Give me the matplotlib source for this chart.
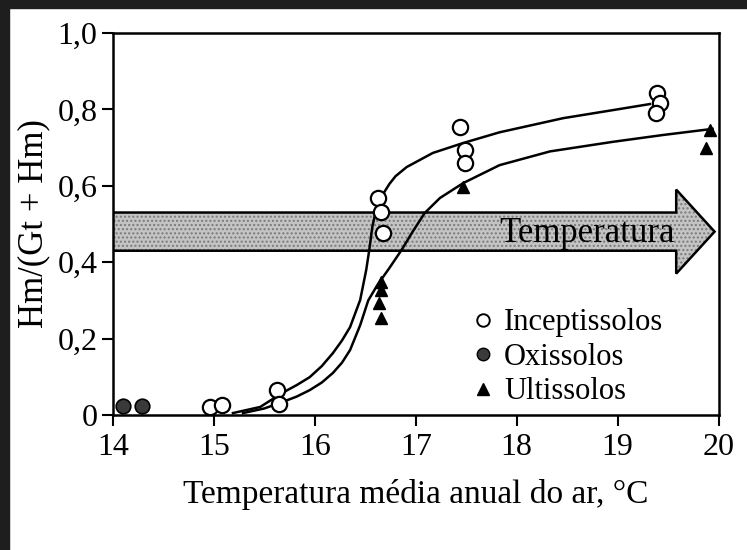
import matplotlib
matplotlib.use("Agg")
import matplotlib.pyplot as plt
from matplotlib.patches import FancyArrow, Rectangle
from matplotlib.lines import Line2D

plt.rcParams['font.family'] = ['Liberation Serif', 'DejaVu Serif']

# Inceptissolos (open circles)
incep_x = [14.96, 15.08, 15.63, 15.65, 16.63, 16.66, 16.68, 17.44, 17.49, 17.49, 19.39, 19.42, 19.38]
incep_y = [0.021, 0.026, 0.065, 0.029, 0.568, 0.531, 0.476, 0.754, 0.694, 0.660, 0.843, 0.817, 0.791]

# Oxissolos (filled circles)
oxi_x = [14.10, 14.29]
oxi_y = [0.024, 0.024]

# Ultissolos (triangles)
ulti_x = [16.66, 16.66, 16.64, 16.66, 17.47, 19.91, 19.88]
ulti_y = [0.348, 0.327, 0.293, 0.254, 0.597, 0.746, 0.699]

# fitted curves
curve_incep_x = [15.19, 15.46, 15.68, 15.82, 15.95, 16.07, 16.18, 16.27, 16.35, 16.45, 16.51,
                 16.54, 16.57, 16.60, 16.64, 16.69, 16.74, 16.80, 16.91, 17.17, 17.47, 17.83,
                 18.46, 18.95, 19.32]
curve_incep_y = [0.005, 0.021, 0.058, 0.078, 0.099, 0.128, 0.162, 0.195, 0.230, 0.301, 0.380,
                 0.432, 0.492, 0.528, 0.555, 0.584, 0.605, 0.625, 0.649, 0.686, 0.712, 0.740,
                 0.777, 0.798, 0.814]
curve_ulti_x = [15.29, 15.50, 15.68, 15.82, 15.95, 16.07, 16.18, 16.27, 16.35, 16.45, 16.53,
                16.62, 16.74, 16.86, 16.97, 17.09, 17.24, 17.47, 17.83, 18.33, 18.95, 19.45,
                19.94]
curve_ulti_y = [0.005, 0.017, 0.034, 0.048, 0.065, 0.085, 0.110, 0.137, 0.170, 0.235, 0.300,
                0.340, 0.385, 0.432, 0.480, 0.529, 0.568, 0.607, 0.654, 0.690, 0.715, 0.733,
                0.749]

# arrow band
band_start, band_end = 14.0, 19.96
band_mid, band_height = 0.48, 0.10
head_height, head_len = 0.22, 0.38

xticks = [14, 15, 16, 17, 18, 19, 20]
yticks = [0, 0.2, 0.4, 0.6, 0.8, 1.0]
ytick_labels = ['0', '0,2', '0,4', '0,6', '0,8', '1,0']

fig = plt.figure(figsize=(7.47, 5.5), dpi=100)
ax = fig.add_axes([0.151, 0.2455, 0.811, 0.6945])

# scan border
fig.patches.append(Rectangle((0, 0), 9 / 747, 1, transform=fig.transFigure,
                             color='#1e1e1e', zorder=10))
fig.patches.append(Rectangle((0, 1 - 8 / 550), 1, 8 / 550, transform=fig.transFigure,
                             color='#1e1e1e', zorder=10))

arrow_kw = dict(width=band_height, head_width=head_height, head_length=head_len,
                length_includes_head=True)
ax.add_patch(FancyArrow(band_start, band_mid, band_end - band_start, 0, facecolor='#c4c4c4',
                        edgecolor='#7a7a7a', hatch='....', linewidth=0, zorder=1, **arrow_kw))
ax.add_patch(FancyArrow(band_start, band_mid, band_end - band_start, 0, fill=False,
                        edgecolor='black', linewidth=1.8, zorder=2, **arrow_kw))
ax.text(19.57, band_mid - 0.005, 'Temperatura', ha='right', va='center', fontsize=25, zorder=3)

ax.plot(curve_incep_x, curve_incep_y, color='black', lw=1.8, zorder=4)
ax.plot(curve_ulti_x, curve_ulti_y, color='black', lw=1.8, zorder=4)

ax.plot(incep_x, incep_y, 'o', ms=11, mfc='white', mec='black', mew=1.6, zorder=5)
ax.plot(oxi_x, oxi_y, 'o', ms=10.5, mfc='#3a3a3a', mec='black', mew=1.2, zorder=5)
ax.plot(ulti_x, ulti_y, '^', ms=8, color='black', zorder=5)

ax.set_xlim(14, 20)
ax.set_ylim(0, 1.0)
ax.set_xticks(xticks)
ax.set_xticklabels([str(t) for t in xticks])
ax.set_yticks(yticks)
ax.set_yticklabels(ytick_labels)
ax.tick_params(axis='both', direction='out', length=8, width=1.5, labelsize=23, pad=3)
ax.tick_params(axis='x', pad=5)
ax.tick_params(top=False, right=False)
for s in ax.spines.values():
    s.set_linewidth(1.8)

ax.set_xlabel('Temperatura média anual do ar, °C', fontsize=24, labelpad=12)
ax.set_ylabel('Hm/(Gt + Hm)', fontsize=25, labelpad=5)

handles = [
    Line2D([], [], marker='o', ls='none', ms=9, mfc='white', mec='black', mew=1.4),
    Line2D([], [], marker='o', ls='none', ms=9, mfc='#3a3a3a', mec='black', mew=1.0),
    Line2D([], [], marker='^', ls='none', ms=8, color='black'),
]
ax.legend(handles, ['Inceptissolos', 'Oxissolos', 'Ultissolos'], loc='upper left',
          bbox_to_anchor=(0.555, 0.335), frameon=False, fontsize=22, handlelength=0.8,
          handletextpad=0.3, labelspacing=0.18, borderpad=0.2)

fig.savefig('out.png', dpi=100, facecolor='white')
